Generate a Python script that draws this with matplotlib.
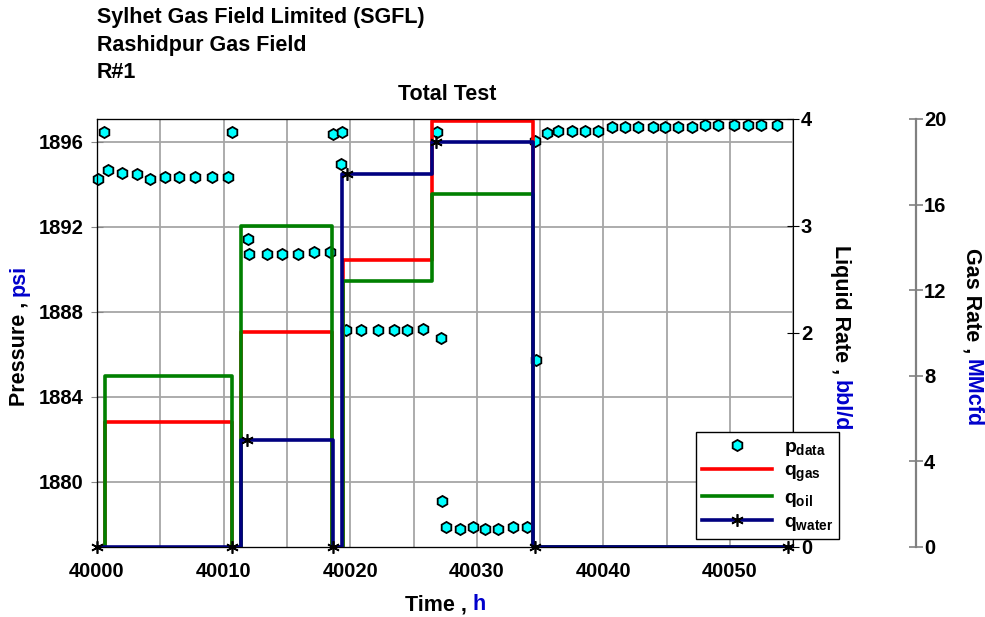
import matplotlib
matplotlib.use("Agg")
from matplotlib import pyplot as plt
from matplotlib.ticker import MultipleLocator

# pressure gauge readings
p_time = [40000.10, 40000.55, 40000.89, 40001.95, 40003.14, 40004.19, 40005.37,
          40006.50, 40007.74, 40009.11, 40010.32, 40010.64, 40011.90, 40012.01,
          40013.40, 40014.64, 40015.85, 40017.16, 40018.40, 40018.67, 40019.27,
          40019.33, 40019.64, 40020.85, 40022.22, 40023.48, 40024.46, 40025.75,
          40026.83, 40027.15, 40027.27, 40027.54, 40028.67, 40029.72, 40030.65,
          40031.70, 40032.88, 40033.94, 40034.60, 40034.68, 40035.52, 40036.44,
          40037.50, 40038.55, 40039.60, 40040.66, 40041.71, 40042.76, 40043.94,
          40044.87, 40045.92, 40046.97, 40048.03, 40049.08, 40050.34, 40051.40,
          40052.45, 40053.69]
p_psi = [1894.24, 1896.44, 1894.67, 1894.51, 1894.48, 1894.24, 1894.34,
         1894.34, 1894.34, 1894.34, 1894.34, 1896.44, 1891.41, 1890.70,
         1890.70, 1890.70, 1890.70, 1890.80, 1890.80, 1896.35, 1894.94,
         1896.44, 1887.14, 1887.14, 1887.14, 1887.14, 1887.14, 1887.19,
         1896.44, 1886.75, 1879.11, 1877.88, 1877.77, 1877.88, 1877.77,
         1877.77, 1877.88, 1877.88, 1896.05, 1885.73, 1896.42, 1896.50,
         1896.50, 1896.50, 1896.50, 1896.68, 1896.68, 1896.68, 1896.68,
         1896.68, 1896.68, 1896.68, 1896.79, 1896.79, 1896.79, 1896.79,
         1896.79, 1896.79]

# rate history (step changes)
rate_time = [40000.0, 40000.63, 40010.69, 40011.37, 40018.59, 40019.43,
             40026.48, 40034.46, 40055.0]
q_gas = [0, 5.86, 0, 10.06, 0, 13.41, 19.91, 0, 0]      # MMcfd
q_oil = [0, 1.60, 0, 3.00, 0, 2.49, 3.30, 0, 0]         # bbl/d

water_time = [40000.0, 40011.37, 40018.67, 40019.33, 40026.48, 40034.46, 40055.0]
q_water = [0, 1.00, 0, 3.49, 3.78, 0, 0]                # bbl/d
water_pt_time = [40000.0, 40010.66, 40011.82, 40018.67, 40019.72,
                 40026.75, 40034.60, 40054.60]
water_pt_q = [0, 0, 1.00, 0, 3.49, 3.78, 0, 0]

x_ticks = [40000, 40010, 40020, 40030, 40040, 40050]
p_ticks = [1880, 1884, 1888, 1892, 1896]
liq_ticks = [0, 1, 2, 3, 4]
liq_labels = ["0", "", "2", "3", "4"]   # "1" sits under the legend
gas_ticks = [0, 4, 8, 12, 16, 20]

BLUE = "#0000CC"
GRID = "#A6A6A6"

plt.rcParams["font.family"] = ["Liberation Sans", "DejaVu Sans"]
plt.rcParams["font.weight"] = "bold"
plt.rcParams["font.size"] = 14.5
plt.rcParams["mathtext.fontset"] = "custom"
plt.rcParams["mathtext.rm"] = "Liberation Sans:bold"
plt.rcParams["mathtext.it"] = "Liberation Sans:bold"
plt.rcParams["mathtext.bf"] = "Liberation Sans:bold"


def display():
    fig = plt.figure(figsize=(9.85, 6.17), dpi=100)
    ax = fig.add_axes([0.0985, 0.1135, 0.7069, 0.6937])
    ax_gas = ax.twinx()
    ax_liq = ax.twinx()

    # pressure
    hp, = ax.plot(p_time, p_psi, "h", ms=8, mfc="#00FFFF", mec="black",
                  mew=1.3, ls="none", clip_on=False, label=r"$p_{data}$")
    ax.set_xlim(40000, 40055)
    ax.set_ylim(1876.93, 1897.07)
    ax.set_xticks(x_ticks)
    ax.xaxis.set_minor_locator(MultipleLocator(5))
    ax.set_yticks(p_ticks)
    ax.grid(True, which="both", axis="x", color=GRID, lw=1.3)
    ax.grid(True, which="major", axis="y", color=GRID, lw=1.3)
    ax.set_axisbelow(True)
    ax.tick_params(axis="x", which="both", direction="in", length=0, pad=11)
    ax.tick_params(axis="y", direction="inout", length=9, color="#888888",
                   pad=5)
    ax.spines["right"].set_visible(False)

    # gas rate
    hg, = ax_gas.step(rate_time, q_gas, where="post", color="#FF0000", lw=2.6,
                      label=r"$q_{gas}$")
    ax_gas.set_ylim(0, 20)
    ax_gas.set_yticks(gas_ticks)
    ax_gas.spines["right"].set_position(("axes", 1.176))
    ax_gas.spines["right"].set_color("#808080")
    ax_gas.spines["right"].set_linewidth(1.6)
    ax_gas.tick_params(axis="y", direction="inout", length=10,
                       color="#808080", width=1.2, pad=1)

    # liquid rates
    ho, = ax_liq.step(rate_time, q_oil, where="post", color="#008000", lw=2.6,
                      label=r"$q_{oil}$")
    ax_liq.step(water_time, q_water, where="post", color="#000080", lw=2.6)
    ax_liq.plot(water_pt_time, water_pt_q, ls="none", marker=(6, 2, 0),
                ms=9, mec="black", mew=1.2, clip_on=False)
    hw, = ax_liq.plot([], [], color="#000080", lw=2.6, marker=(6, 2, 0),
                      ms=9, mec="black", mew=1.2, label=r"$q_{water}$")
    ax_liq.set_ylim(0, 4)
    ax_liq.set_yticks(liq_ticks)
    ax_liq.set_yticklabels(liq_labels)
    ax_liq.tick_params(axis="y", direction="inout", length=9, pad=1)

    # labels, built from coloured pieces
    lab = 15.5
    t = fig.text(19 / 985, 1 - 296 / 617, "Pressure , ", rotation=90,
                 ha="center", va="top", fontsize=lab)
    ax.annotate("psi", xy=(0.5, 1), xycoords=t, rotation=90, ha="center",
                va="bottom", color=BLUE, fontsize=lab)
    t = fig.text(840 / 985, 1 - 245 / 617, "Liquid Rate , ", rotation=270,
                 ha="center", va="top", fontsize=lab)
    ax.annotate("bbl/d", xy=(0.5, 0), xycoords=t, rotation=270, ha="center",
                va="top", color=BLUE, fontsize=lab)
    t = fig.text(972 / 985, 1 - 248 / 617, "Gas Rate , ", rotation=270,
                 ha="center", va="top", fontsize=lab)
    ax.annotate("MMcfd", xy=(0.5, 0), xycoords=t, rotation=270, ha="center",
                va="top", color=BLUE, fontsize=lab)
    t = fig.text(405 / 985, 1 - 605 / 617, "Time , ", ha="left", va="center",
                 fontsize=lab)
    ax.annotate("h", xy=(1, 0.5), xycoords=t, ha="left", va="center",
                color=BLUE, fontsize=lab)

    fig.text(97 / 985, 1 - 17 / 617, "Sylhet Gas Field Limited (SGFL)",
             ha="left", va="center", fontsize=lab)
    fig.text(97 / 985, 1 - 45 / 617, "Rashidpur Gas Field",
             ha="left", va="center", fontsize=lab)
    fig.text(97 / 985, 1 - 72 / 617, "R#1", ha="left", va="center",
             fontsize=lab)
    fig.text(447 / 985, 1 - 95 / 617, "Total Test", ha="center",
             va="center", fontsize=lab)

    leg = ax_liq.legend(handles=[hp, hg, ho, hw], loc="lower left",
                        bbox_to_anchor=(696 / 985, 1 - 539 / 617),
                        bbox_transform=fig.transFigure, fontsize=14,
                        fancybox=False, framealpha=1, edgecolor="black",
                        borderpad=0.3, labelspacing=0.25, handlelength=3.6,
                        handletextpad=0.6, borderaxespad=0, numpoints=1)
    leg.get_frame().set_linewidth(1.0)

    fig.savefig("out.png", dpi=100)


if __name__ == "__main__":
    display()
